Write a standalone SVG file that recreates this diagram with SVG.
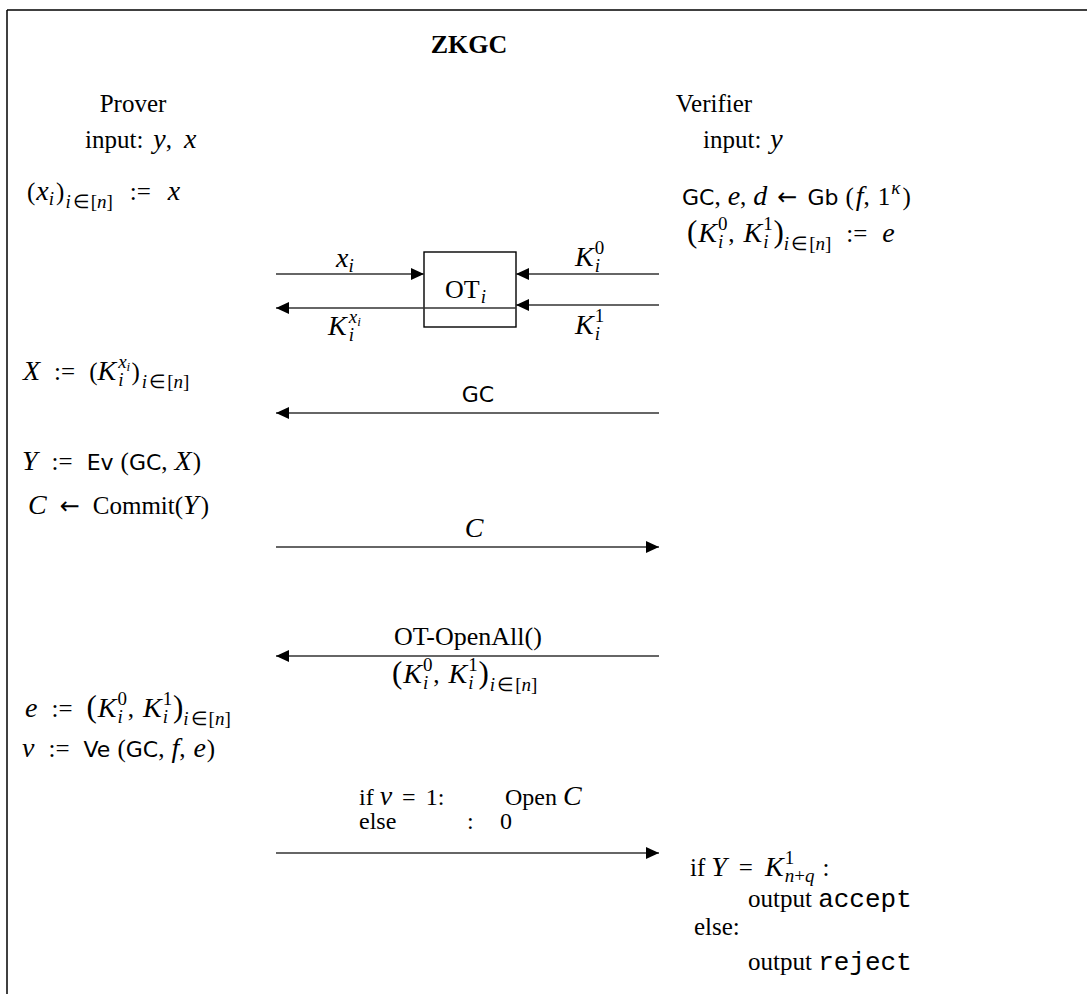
<svg xmlns="http://www.w3.org/2000/svg" width="1087" height="994" viewBox="0 0 1087 994">
<defs>
<marker id="ah" markerUnits="userSpaceOnUse" markerWidth="14" markerHeight="14" viewBox="0 0 14 14" refX="13" refY="7" orient="auto">
<path d="M0,1 L13,7 L0,13 Z" fill="#000"/>
</marker>
<style>
text{font-family:"Liberation Serif","Times New Roman",serif;font-size:25px;fill:#000}
.t{font-weight:bold;font-size:26px}
.mi{font-style:italic;font-size:28px}
.s{font-family:"DejaVu Sans","Liberation Sans",sans-serif;font-size:22px}
.ar{font-family:"DejaVu Sans",sans-serif;font-size:24px}
.ms{font-size:19px}
.mss{font-size:13px}
.bp{font-size:31px}
.mono{font-family:"Liberation Mono","Courier New",monospace;font-size:26px}
.c{text-anchor:middle}
.ln{stroke:#333;stroke-width:1.4;fill:none}
</style>
</defs>
<rect width="1087" height="994" fill="#fff"/>
<g id="frame" fill="none" stroke="#000" stroke-width="1.5">
<line x1="7" y1="10" x2="1087" y2="10"/>
<line x1="7" y1="10" x2="7" y2="994"/>
</g>
<g id="title"><text class="t c" x="469" y="53">ZKGC</text></g>
<g id="prover-header">
<text class="c" x="133" y="112">Prover</text>
<text x="85" y="148">input:<tspan class="mi" dx="10">y</tspan>,<tspan class="mi" dx="12">x</tspan></text>
</g>
<g id="verifier-header">
<text class="c" x="714" y="112">Verifier</text>
<text x="703" y="148">input:<tspan class="mi" dx="9">y</tspan></text>
</g>
<g id="prover-split">
<text x="27" y="200">(<tspan class="mi" dx="1">x</tspan><tspan class="mi ms" dy="5">i</tspan><tspan dx="2" dy="-5">)</tspan><tspan class="ms" dx="1" dy="8"><tspan class="mi ms">i</tspan><tspan dx="2">∈</tspan><tspan dx="1">[</tspan><tspan class="mi ms">n</tspan>]</tspan><tspan dy="-8" dx="17">:=</tspan><tspan class="mi" dx="17">x</tspan></text>
</g>
<g id="verifier-garble">
<text x="682" y="205"><tspan class="s">GC</tspan>,<tspan class="mi" dx="7">e</tspan>,<tspan class="mi" dx="7">d</tspan><tspan class="ar" dx="10">←</tspan><tspan class="s" dx="10">Gb</tspan><tspan dx="7">(</tspan><tspan class="mi" dx="2">f</tspan>,<tspan dx="8">1</tspan><tspan class="mi ms" dx="1" dy="-11">κ</tspan><tspan dx="2" dy="11">)</tspan></text>
<text x="687" y="242"><tspan class="bp">(</tspan><tspan class="mi" dx="1">K</tspan><tspan class="ms" dx="1" dy="-12">0</tspan><tspan class="mi ms" dx="-9.5" dy="18">i</tspan><tspan dx="5" dy="-6">,</tspan><tspan class="mi" dx="9">K</tspan><tspan class="ms" dx="1" dy="-12">1</tspan><tspan class="mi ms" dx="-9.5" dy="18">i</tspan><tspan class="bp" dx="5" dy="-6">)</tspan><tspan class="ms" dy="8"><tspan class="mi ms">i</tspan><tspan dx="2">∈</tspan><tspan dx="1">[</tspan><tspan class="mi ms">n</tspan>]</tspan><tspan dy="-8" dx="15">:=</tspan><tspan class="mi" dx="15">e</tspan></text>
</g>
<g id="ot-box">
<rect x="424" y="252" width="92" height="75" fill="#fff" stroke="#000" stroke-width="1.4"/>
<text x="445" y="298" style="font-size:26px">OT<tspan class="mi ms" dx="1" dy="5">i</tspan></text>
</g>
<g id="prover-X">
<text x="23" y="380"><tspan class="mi">X</tspan><tspan dx="14">:=</tspan><tspan dx="14">(</tspan><tspan class="mi">K</tspan><tspan class="mi ms" dx="2" dy="-12">x</tspan><tspan class="mi mss" dy="3">i</tspan><tspan class="mi ms" dx="-12" dy="15">i</tspan><tspan dx="8" dy="-6">)</tspan><tspan class="ms" dx="2" dy="8"><tspan class="mi ms">i</tspan><tspan dx="2">∈</tspan><tspan dx="1">[</tspan><tspan class="mi ms">n</tspan>]</tspan></text>
</g>
<g id="prover-eval">
<text x="22" y="470"><tspan class="mi">Y</tspan><tspan dx="14">:=</tspan><tspan class="s" dx="14">Ev</tspan><tspan dx="7">(</tspan><tspan class="s">GC</tspan>,<tspan class="mi" dx="7">X</tspan><tspan dx="1">)</tspan></text>
<text x="28" y="514"><tspan class="mi">C</tspan><tspan class="ar" dx="13">←</tspan><tspan dx="13">Commit(</tspan><tspan class="mi">Y</tspan><tspan dx="2">)</tspan></text>
</g>
<g id="prover-verify">
<text x="25" y="717"><tspan class="mi">e</tspan><tspan dx="14">:=</tspan><tspan class="bp" dx="14">(</tspan><tspan class="mi" dx="1">K</tspan><tspan class="ms" dx="1" dy="-12">0</tspan><tspan class="mi ms" dx="-9.5" dy="18">i</tspan><tspan dx="5" dy="-6">,</tspan><tspan class="mi" dx="9">K</tspan><tspan class="ms" dx="1" dy="-12">1</tspan><tspan class="mi ms" dx="-9.5" dy="18">i</tspan><tspan class="bp" dx="5" dy="-6">)</tspan><tspan class="ms" dy="8"><tspan class="mi ms">i</tspan><tspan dx="2">∈</tspan><tspan dx="1">[</tspan><tspan class="mi ms">n</tspan>]</tspan></text>
<text x="22" y="757"><tspan class="mi">v</tspan><tspan dx="14">:=</tspan><tspan class="s" dx="14">Ve</tspan><tspan dx="7">(</tspan><tspan class="s">GC</tspan>,<tspan class="mi" dx="7">f</tspan>,<tspan class="mi" dx="8">e</tspan><tspan dx="1">)</tspan></text>
</g>
<g id="verifier-output">
<text x="690" y="876">if<tspan class="mi" dx="6">Y</tspan><tspan dx="12">=</tspan><tspan class="mi" dx="12">K</tspan><tspan class="ms" dx="1" dy="-12">1</tspan><tspan class="mi ms" dx="-9.5" dy="18">n</tspan><tspan class="ms">+</tspan><tspan class="mi ms">q</tspan><tspan dx="8" dy="-6">:</tspan></text>
<text x="748" y="907">output <tspan class="mono">accept</tspan></text>
<text x="694" y="935">else:</text>
<text x="748" y="970">output <tspan class="mono">reject</tspan></text>
</g>
<g id="connectors">
<line class="ln" x1="276" y1="274" x2="424" y2="274" marker-end="url(#ah)"/>
<line class="ln" x1="516" y1="308" x2="276" y2="308" marker-end="url(#ah)"/>
<line class="ln" x1="659" y1="274" x2="516" y2="274" marker-end="url(#ah)"/>
<line class="ln" x1="659" y1="305" x2="516" y2="305" marker-end="url(#ah)"/>
<text x="336" y="267"><tspan class="mi">x</tspan><tspan class="mi ms" dy="5">i</tspan></text>
<text x="328" y="335"><tspan class="mi">K</tspan><tspan class="mi ms" dx="2" dy="-12">x</tspan><tspan class="mi mss" dy="3">i</tspan><tspan class="mi ms" dx="-12" dy="15">i</tspan></text>
<text x="575" y="266"><tspan class="mi">K</tspan><tspan class="ms" dx="1" dy="-12">0</tspan><tspan class="mi ms" dx="-9.5" dy="18">i</tspan></text>
<text x="575" y="334"><tspan class="mi">K</tspan><tspan class="ms" dx="1" dy="-12">1</tspan><tspan class="mi ms" dx="-9.5" dy="18">i</tspan></text>
<line class="ln" x1="659" y1="413" x2="276" y2="413" marker-end="url(#ah)"/>
<text class="s c" x="478" y="402">GC</text>
<line class="ln" x1="276" y1="547" x2="659" y2="547" marker-end="url(#ah)"/>
<text class="mi c" x="474" y="537">C</text>
<line class="ln" x1="659" y1="656" x2="276" y2="656" marker-end="url(#ah)"/>
<text class="c" x="468" y="645" style="font-size:26px">OT-OpenAll()</text>
<text x="392" y="683"><tspan class="bp">(</tspan><tspan class="mi" dx="1">K</tspan><tspan class="ms" dx="1" dy="-12">0</tspan><tspan class="mi ms" dx="-9.5" dy="18">i</tspan><tspan dx="5" dy="-6">,</tspan><tspan class="mi" dx="9">K</tspan><tspan class="ms" dx="1" dy="-12">1</tspan><tspan class="mi ms" dx="-9.5" dy="18">i</tspan><tspan class="bp" dx="5" dy="-6">)</tspan><tspan class="ms" dx="1" dy="8"><tspan class="mi ms">i</tspan><tspan dx="2">∈</tspan><tspan dx="1">[</tspan><tspan class="mi ms">n</tspan>]</tspan></text>
<line class="ln" x1="276" y1="853" x2="659" y2="853" marker-end="url(#ah)"/>
<text x="359" y="805" style="font-size:24px">if<tspan class="mi" dx="6">v</tspan><tspan dx="10">=</tspan><tspan dx="10">1:</tspan></text>
<text x="505" y="805" style="font-size:24px">Open<tspan class="mi" dx="6">C</tspan></text>
<text x="359" y="829" style="font-size:24px">else</text>
<text x="467" y="829" style="font-size:24px">:</text>
<text x="500" y="829" style="font-size:24px">0</text>
</g>
</svg>
